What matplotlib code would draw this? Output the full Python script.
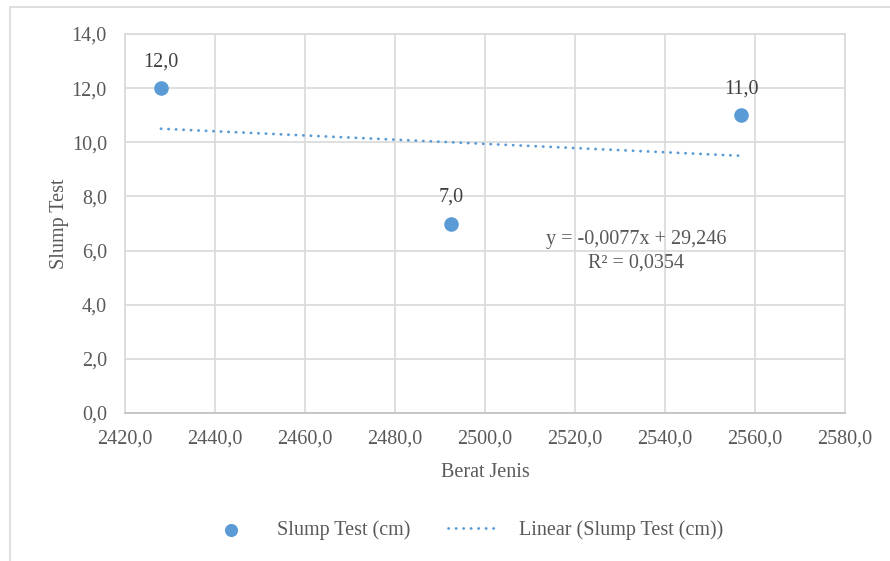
import matplotlib
matplotlib.use("Agg")
import matplotlib.pyplot as plt
import numpy as np
from matplotlib.patches import Rectangle

# data
berat_jenis = [2428.0, 2492.5, 2557.0]
slump_cm = [12.0, 7.0, 11.0]
point_labels = ["12,0", "7,0", "11,0"]
x_ticks = [2420, 2440, 2460, 2480, 2500, 2520, 2540, 2560, 2580]
y_ticks = [0, 2, 4, 6, 8, 10, 12, 14]
equation_text = "y = -0,0077x + 29,246\nR² = 0,0354"

BLUE = "#5b9bd5"
GRID = "#d9d9d9"
TXT = "#595959"
FS = 14.5

plt.rcParams["font.family"] = ["Liberation Serif", "DejaVu Serif"]

fig = plt.figure(figsize=(8.9, 5.61), dpi=100)
ax = fig.add_axes([0.1404, 0.2638, 0.8090, 0.6756])

# outer chart frame
fig.patches.append(Rectangle((10 / 890, -0.01), 0.99, (561 - 7) / 561 + 0.01,
                             transform=fig.transFigure, fill=False,
                             edgecolor=GRID, linewidth=1.2, zorder=0))

ax.scatter(berat_jenis, slump_cm, s=110, color=BLUE, zorder=3,
           label="Slump Test (cm)", linewidths=0)

# linear trendline fitted on the points
coef = np.polyfit(berat_jenis, slump_cm, 1)
xs = np.array([min(berat_jenis), max(berat_jenis)])
ax.plot(xs, np.polyval(coef, xs), color=BLUE, linewidth=2.0,
        linestyle=(0, (0.1, 2.6)), dash_capstyle="round", zorder=2,
        label="Linear (Slump Test (cm))")

for x, y, lab in zip(berat_jenis, slump_cm, point_labels):
    ax.annotate(lab, (x, y), xytext=(0, 19), textcoords="offset points",
                ha="center", va="center", fontsize=FS, color="#404040")

ax.text(0.71, 0.427, equation_text, transform=ax.transAxes, ha="center",
        va="center", multialignment="center", fontsize=FS, color=TXT,
        linespacing=1.35)

ax.set_xlim(x_ticks[0], x_ticks[-1])
ax.set_ylim(y_ticks[0], y_ticks[-1])
ax.set_xticks(x_ticks)
ax.set_yticks(y_ticks)
ax.set_xticklabels([f"{v:.1f}".replace(".", ",") for v in x_ticks])
ax.set_yticklabels([f"{v:.1f}".replace(".", ",") for v in y_ticks])
ax.tick_params(axis="both", length=0, labelsize=FS, labelcolor=TXT)
ax.tick_params(axis="x", pad=12)
ax.tick_params(axis="y", pad=13)
ax.grid(True, color=GRID, linewidth=1.2)
ax.set_axisbelow(True)
for sp in ax.spines.values():
    sp.set_color(GRID)
    sp.set_linewidth(1.2)
ax.spines["bottom"].set_color("#bfbfbf")

ax.set_xlabel("Berat Jenis", fontsize=FS, color=TXT, labelpad=10)
ax.set_ylabel("Slump Test", fontsize=FS, color=TXT, labelpad=2)

fig.legend(loc="center", bbox_to_anchor=(0.522, 0.055), ncol=2, frameon=False,
           fontsize=FS, labelcolor=TXT, handlelength=2.5, columnspacing=1.9,
           handletextpad=1.0, markerscale=0.9)

fig.savefig("out.png", dpi=100)
